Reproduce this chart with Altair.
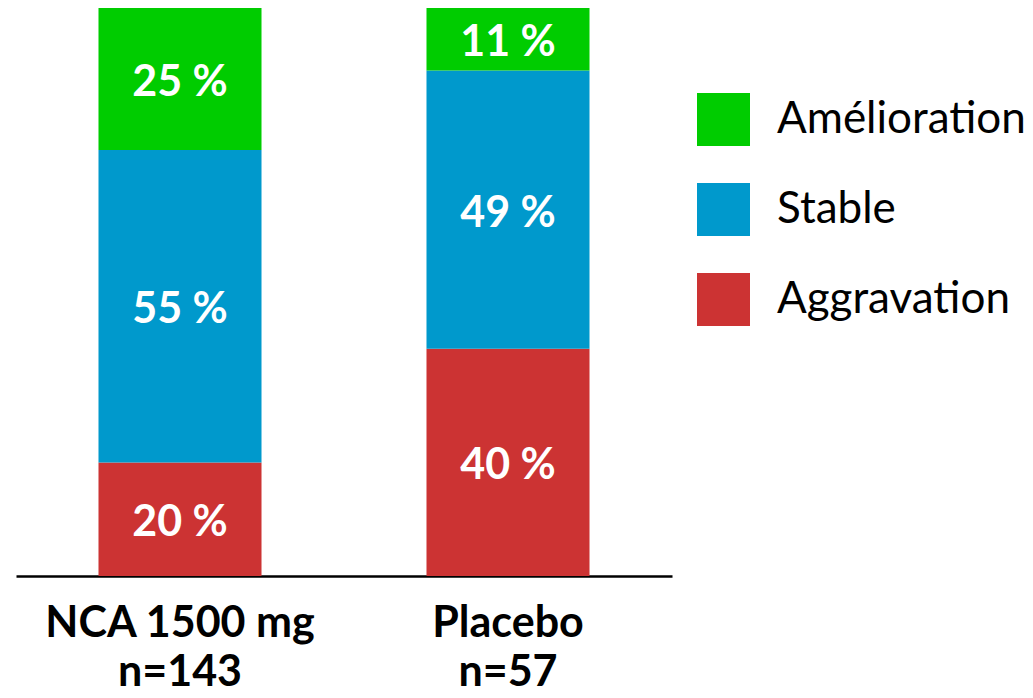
import altair as alt
import pandas as pd

groups = ["NCA 1500 mg|n=143", "Placebo|n=57"]
categories = ["Aggravation", "Stable", "Amélioration"]
nca_values = [20, 55, 25]
placebo_values = [40, 49, 11]
legend_order = ["Amélioration", "Stable", "Aggravation"]
colors = ["#00CC00", "#0099CC", "#CC3333"]

rows = []
for g, vals in zip(groups, [nca_values, placebo_values]):
    for i, (c, v) in enumerate(zip(categories, vals)):
        rows.append({"group": g, "cat": c, "value": v, "rank": i})
df = pd.DataFrame(rows)

FONT = "Lato"

base = alt.Chart(df).transform_stack(
    stack="value",
    groupby=["group"],
    as_=["y0", "y1"],
    sort=[alt.SortField("rank", order="ascending")],
).transform_calculate(
    mid="(datum.y0 + datum.y1) / 2",
    label="datum.value + ' %'",
)

xenc = alt.X(
    "group:N",
    sort=groups,
    title=None,
    scale=alt.Scale(range=[8, 664], paddingInner=0.503, paddingOuter=0.2515),
    axis=alt.Axis(
        labelExpr="split(datum.label, '|')",
        labelAngle=0,
        labelFont=FONT,
        labelFontWeight="bold",
        labelFontSize=43,
        labelLineHeight=49,
        labelColor="black",
        labelPadding=26,
        labelLimit=0,
        labelOverlap=False,
        ticks=False,
        domainColor="black",
        domainWidth=2.5,
        grid=False,
    ),
)
yscale = alt.Scale(domain=[0, 100])

bars = base.mark_bar().encode(
    x=xenc,
    y=alt.Y("y0:Q", scale=yscale, axis=None),
    y2="y1:Q",
    color=alt.Color(
        "cat:N",
        scale=alt.Scale(domain=legend_order, range=colors),
        legend=alt.Legend(
            title=None,
            orient="none",
            legendX=689,
            legendY=85,
            padding=0,
            symbolType="square",
            symbolSize=2809,
            symbolStrokeWidth=0,
            symbolOpacity=1,
            rowPadding=37,
            labelOffset=27,
            labelFont=FONT,
            labelFontSize=44,
            labelColor="black",
            labelLimit=400,
        ),
    ),
)

texts = base.mark_text(
    font=FONT, fontWeight="bold", fontSize=43, color="white", baseline="middle", dy=4
).encode(
    x=alt.X("group:N", sort=groups),
    y=alt.Y("mid:Q", scale=yscale),
    text="label:N",
)

chart = alt.layer(bars, texts).properties(
    width=1017,
    height=568,
    autosize=alt.AutoSizeParams(type="none"),
    padding={"left": 0, "top": 0, "right": 0, "bottom": 112},
).configure_view(stroke=None)

chart.save("out.html", embed_options={"renderer": "svg", "actions": False})
